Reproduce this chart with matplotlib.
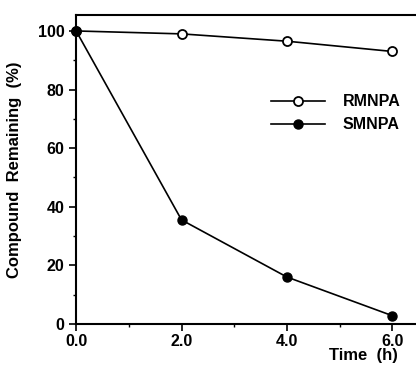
import matplotlib
matplotlib.use("Agg")
import matplotlib.pyplot as plt
from matplotlib.ticker import MultipleLocator

plt.rcParams['font.family'] = ['Liberation Sans', 'DejaVu Sans']
plt.rcParams['font.weight'] = 'bold'

time_h = [0.0, 2.0, 4.0, 6.0]
rmnpa = [100, 99, 96.5, 93]
smnpa = [100, 35.5, 16, 2.8]
xticks = [0, 2, 4, 6]
xtick_labels = ["0.0", "2.0", "4.0", "6.0"]

fig = plt.figure(figsize=(4.16, 3.71), dpi=100)
ax = fig.add_axes([0.183, 0.127, 0.817, 0.833])

ax.plot(time_h, rmnpa, color='black', lw=1.2, marker='o', ms=6.5,
        mfc='white', mec='black', mew=1.3, label='RMNPA', clip_on=False, zorder=3)
ax.plot(time_h, smnpa, color='black', lw=1.2, marker='o', ms=6.5,
        mfc='black', mec='black', label='SMNPA', clip_on=False, zorder=3)

ax.set_xlim(0, 6.45)
ax.set_ylim(0, 105.5)
ax.set_xticks(xticks)
ax.set_xticklabels(xtick_labels)
ax.xaxis.set_minor_locator(MultipleLocator(1))
ax.yaxis.set_major_locator(MultipleLocator(20))
ax.yaxis.set_minor_locator(MultipleLocator(10))
ax.tick_params(which='major', direction='out', length=5, width=1.2, labelsize=11.5)
ax.tick_params(axis='x', which='major', pad=2)
ax.tick_params(which='minor', direction='out', length=2.5, width=1)

ax.spines['right'].set_visible(False)
for s in ['left', 'bottom', 'top']:
    ax.spines[s].set_linewidth(1.5)

ax.set_ylabel('Compound  Remaining  (%)', fontsize=12, fontweight='bold', labelpad=11)
ax.text(6.1, -8.3, 'Time  (h)', fontsize=12, fontweight='bold', ha='right', va='top')

ax.legend(loc='upper left', bbox_to_anchor=(0.53, 0.79), frameon=False,
          handlelength=3.4, handletextpad=1.1, labelspacing=0.5,
          prop={'weight': 'bold', 'size': 11.5})

fig.savefig('out.png', dpi=100)
